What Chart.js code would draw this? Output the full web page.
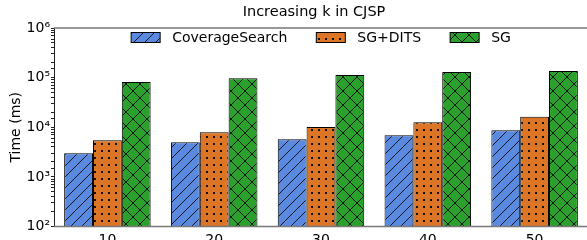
<!DOCTYPE html>
<html>
<head>
<meta charset="utf-8">
<script src="https://cdn.jsdelivr.net/npm/chart.js@4.4.1/dist/chart.umd.min.js"></script>
<style>
  html, body { margin: 0; padding: 0; background: #fff; overflow: hidden; }
  #wrap { width: 600px; height: 256px; }
</style>
</head>
<body>
<div id="wrap"><canvas id="chart" width="600" height="256"></canvas></div>
<script>
// Data
const categories = ['10', '20', '30', '40', '50'];
const coverageSearch = [3000, 5000, 5700, 6900, 8700];
const sgDits = [5500, 7900, 10100, 12600, 16300];
const sg = [82000, 97000, 113000, 130000, 136000];
const seriesNames = ['CoverageSearch', 'SG+DITS', 'SG'];
const chartTitle = 'Increasing k in CJSP';

Chart.defaults.font.family = "'DejaVu Sans', sans-serif";
Chart.defaults.color = '#000';

// Hatch fills, roughly like matplotlib's '/', '.', 'x'
const makePattern = (base, size, draw) => {
    const c = document.createElement('canvas');
    c.width = size;
    c.height = size;
    const g = c.getContext('2d');
    g.fillStyle = base;
    g.fillRect(0, 0, size, size);
    g.strokeStyle = 'rgba(0,0,0,0.85)';
    g.fillStyle = '#111';
    g.lineWidth = 1;
    draw(g, size);
    return g.createPattern(c, 'repeat');
};

const slash = (g, s) => {
    g.beginPath();
    g.moveTo(-1, s + 1); g.lineTo(s + 1, -1);
    g.moveTo(-1, 1); g.lineTo(1, -1);
    g.moveTo(s - 1, s + 1); g.lineTo(s + 1, s - 1);
    g.stroke();
};
const dots = (g, s) => {
    g.fillRect(3, 3, 2, 2);
};
const cross = (g, s) => {
    g.beginPath();
    g.moveTo(0, s); g.lineTo(s, 0);
    g.moveTo(0, 0); g.lineTo(s, s);
    g.stroke();
};

const blueFill = makePattern('#5a8ae0', 11, slash);
const orangeFill = makePattern('#dc7626', 7, dots);
const greenFill = makePattern('#2ca02c', 14, cross);

const isPow10 = v => {
    const e = Math.log10(v);
    return Math.abs(e - Math.round(e)) < 1e-9;
};
const sup = { 2: '\u00b2', 3: '\u00b3', 4: '\u2074', 5: '\u2075', 6: '\u2076' };

// top spine + title over the plot area (matplotlib-like)
const frame = {
    id: 'frame',
    afterDatasetsDraw(chart) {
        const { ctx, chartArea } = chart;
        ctx.save();
        ctx.strokeStyle = '#777';
        ctx.lineWidth = 1.5;
        ctx.beginPath();
        ctx.moveTo(chartArea.left, chartArea.top);
        ctx.lineTo(chartArea.right, chartArea.top);
        ctx.moveTo(chartArea.left, chartArea.bottom);
        ctx.lineTo(chartArea.right, chartArea.bottom);
        ctx.stroke();
        ctx.fillStyle = '#000';
        ctx.font = "14.5px 'DejaVu Sans', sans-serif";
        ctx.textAlign = 'center';
        ctx.textBaseline = 'middle';
        ctx.fillText(chartTitle, 314, 12.5);
        ctx.restore();
    }
};

// legend in one row inside the plot, upper centre
const innerLegend = {
    id: 'innerLegend',
    afterDraw(chart) {
        const { ctx, chartArea } = chart;
        const boxW = 29, boxH = 10, textGap = 12, itemGap = 29;
        ctx.save();
        ctx.font = "14px 'DejaVu Sans', sans-serif";
        const sets = chart.data.datasets;
        const widths = sets.map(d => boxW + textGap + ctx.measureText(d.label).width);
        const total = widths.reduce((a, b) => a + b, 0) + itemGap * (sets.length - 1);
        let x = (chartArea.left + chartArea.right) / 2 - total / 2;
        const cy = chartArea.top + 9.5;
        sets.forEach((d, i) => {
            ctx.fillStyle = d.backgroundColor;
            ctx.fillRect(x, cy - boxH / 2, boxW, boxH);
            ctx.strokeStyle = '#000';
            ctx.lineWidth = 1;
            ctx.strokeRect(x, cy - boxH / 2, boxW, boxH);
            ctx.fillStyle = '#000';
            ctx.textBaseline = 'middle';
            ctx.fillText(d.label, x + boxW + textGap, cy + 0.5);
            x += widths[i] + itemGap;
        });
        ctx.restore();
    }
};

new Chart(document.getElementById('chart').getContext('2d'), {
    type: 'bar',
    data: {
        labels: categories,
        datasets: [
            { label: seriesNames[0], data: coverageSearch, backgroundColor: blueFill },
            { label: seriesNames[1], data: sgDits, backgroundColor: orangeFill },
            { label: seriesNames[2], data: sg, backgroundColor: greenFill }
        ]
    },
    options: {
        responsive: false,
        animation: false,
        layout: { padding: { top: 28, right: 12 } },
        datasets: {
            bar: {
                borderColor: '#000',
                borderWidth: 1,
                categoryPercentage: 0.81,
                barPercentage: 1
            }
        },
        plugins: {
            title: { display: false },
            legend: { display: false },
            tooltip: { enabled: false }
        },
        scales: {
            x: {
                grid: { display: false, drawTicks: false },
                border: { display: false },
                ticks: { font: { size: 14 }, padding: 5 },
                afterFit: s => { s.height = 29.5; }
            },
            y: {
                type: 'logarithmic',
                min: 100,
                max: 1000000,
                border: { color: '#222', width: 1 },
                grid: { drawOnChartArea: false, tickLength: 3, tickColor: '#222' },
                ticks: {
                    autoSkip: false,
                    padding: 1,
                    font: { size: 14 },
                    callback: v => isPow10(v) ? '10' + sup[Math.round(Math.log10(v))] : ''
                },
                title: {
                    display: true,
                    text: 'Time (ms)',
                    font: { size: 14 },
                    padding: { top: 8, bottom: 0 }
                },
                afterFit: s => { s.width = 54; }
            }
        }
    },
    plugins: [frame, innerLegend]
});
</script>
</body>
</html>
